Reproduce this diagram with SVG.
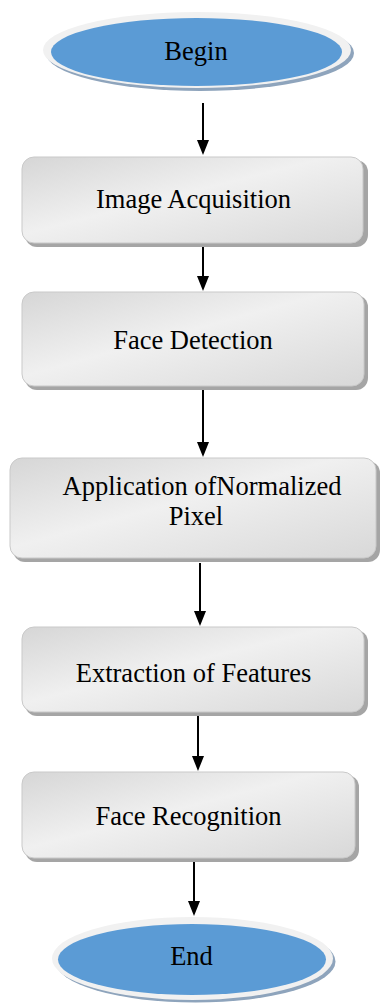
<svg xmlns="http://www.w3.org/2000/svg" width="381" height="1004" viewBox="0 0 381 1004">
<style>
.box{fill:url(#g);stroke:#c9c9c9;stroke-width:1}
.sh{fill:#a5a5a5}
.ring{fill:#f1f1f1}
.esh{fill:#8ea4bc}
.blue{fill:#5b9bd5}
.c line{stroke:#000;stroke-width:2}
</style>
<defs>
<linearGradient id="g" x1="0" y1="0" x2="1" y2="1">
<stop offset="0" stop-color="#d6d6d6"/>
<stop offset="0.45" stop-color="#f0f0f0"/>
<stop offset="1" stop-color="#d8d8d8"/>
</linearGradient>
</defs>
<g class="c">
<line x1="203" y1="103" x2="203" y2="140"/><path d="M197,140 L209,140 L203,155 Z"/>
<line x1="203" y1="247" x2="203" y2="276"/><path d="M197,276 L209,276 L203,291 Z"/>
<line x1="203" y1="388" x2="203" y2="442"/><path d="M197,442 L209,442 L203,457 Z"/>
<line x1="200" y1="563" x2="200" y2="611"/><path d="M194,611 L206,611 L200,626 Z"/>
<line x1="198" y1="716" x2="198" y2="756"/><path d="M192,756 L204,756 L198,771 Z"/>
<line x1="194" y1="862" x2="194" y2="901"/><path d="M188,901 L200,901 L194,916 Z"/>
</g>
<g font-family="'Liberation Serif', 'Times New Roman', serif" font-size="26.5" text-anchor="middle" fill="#000">
<g id="begin">
<ellipse class="esh" cx="200" cy="53" rx="154" ry="38"/>
<ellipse class="ring" cx="197" cy="50" rx="154" ry="38"/>
<ellipse class="blue" cx="196.5" cy="52" rx="145.5" ry="34"/>
<text x="196" y="60" fill="#000">Begin</text>
</g>
<g id="image-acquisition">
<rect class="sh" x="25" y="160" width="343" height="87" rx="12"/>
<rect class="box" x="22" y="157" width="341" height="86" rx="12"/>
<text x="193.5" y="208" fill="#000">Image Acquisition</text>
</g>
<g id="face-detection">
<rect class="sh" x="25" y="295" width="343" height="95" rx="12"/>
<rect class="box" x="22" y="292" width="342" height="94" rx="12"/>
<text x="193" y="349" fill="#000">Face Detection</text>
</g>
<g id="normalized-pixel">
<rect class="sh" x="13" y="461" width="367" height="101" rx="12"/>
<rect class="box" x="10" y="458" width="366" height="100" rx="12"/>
<text x="202" y="495" fill="#000">Application ofNormalized</text>
<text x="196" y="525" fill="#000">Pixel</text>
</g>
<g id="extraction">
<rect class="sh" x="25" y="630" width="343" height="86" rx="12"/>
<rect class="box" x="22" y="627" width="342" height="85" rx="12"/>
<text x="193.5" y="682" fill="#000">Extraction of Features</text>
</g>
<g id="face-recognition">
<rect class="sh" x="25" y="775" width="334" height="87" rx="12"/>
<rect class="box" x="22" y="772" width="333" height="86" rx="12"/>
<text x="188.5" y="825" fill="#000">Face Recognition</text>
</g>
<g id="end">
<ellipse class="esh" cx="195.5" cy="961.5" rx="140" ry="41"/>
<ellipse class="ring" cx="192.5" cy="958.5" rx="140.5" ry="41.5"/>
<ellipse class="blue" cx="192" cy="959.5" rx="134" ry="35.5"/>
<text x="191.5" y="965" fill="#000">End</text>
</g>
</g>
</svg>
